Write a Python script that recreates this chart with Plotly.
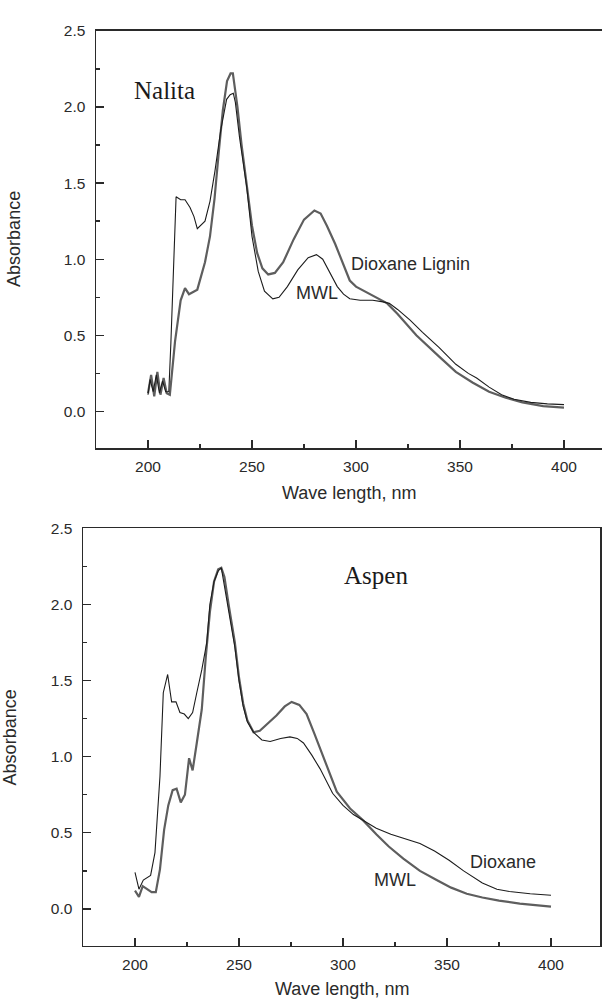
import plotly.graph_objects as go

# ---------------- data: Nalita (top panel) ----------------
nal_mwl_x = [200, 201, 202.5, 204, 205.5, 207, 208.5, 210, 211, 213.5, 215.7, 217.8, 220.2, 222.1, 223.7,
             227.4, 229.8, 232.2, 235, 237.8, 239.5, 241, 242, 244, 247.5, 250, 253, 256, 260, 263, 267,
             272, 277, 281, 284, 288, 291, 294, 297, 302, 308, 313, 316, 320, 326, 332, 340, 348, 354,
             358, 364, 370, 376, 384, 392, 400]
nal_mwl_y = [0.11, 0.21, 0.13, 0.24, 0.12, 0.20, 0.13, 0.13, 0.45, 1.41, 1.39, 1.39, 1.34, 1.28, 1.20,
             1.25, 1.38, 1.58, 1.85, 2.05, 2.08, 2.09, 2.03, 1.80, 1.47, 1.15, 0.92, 0.79, 0.74, 0.75, 0.82,
             0.93, 1.01, 1.03, 1.00, 0.90, 0.82, 0.77, 0.74, 0.73, 0.73, 0.72, 0.71, 0.67, 0.60, 0.52, 0.42,
             0.31, 0.25, 0.22, 0.16, 0.11, 0.08, 0.06, 0.05, 0.045]

nal_diox_x = [200, 201.5, 203, 204.5, 206, 207.5, 209, 210.5, 213, 215.7, 217.8, 219.7, 223.7, 227.4, 229.8,
              232, 234, 236, 238, 239.7, 240.8, 243, 245, 247.5, 250, 252.5, 255, 257.8, 261, 265, 270, 275,
              280, 283, 286, 290, 293, 297, 300, 304, 310, 315, 320, 329, 340, 348, 356, 364, 372, 380,
              390, 400]
nal_diox_y = [0.12, 0.24, 0.10, 0.26, 0.11, 0.22, 0.12, 0.11, 0.46, 0.73, 0.81, 0.77, 0.80, 0.98, 1.15,
              1.40, 1.70, 1.98, 2.17, 2.22, 2.22, 2.00, 1.75, 1.47, 1.22, 1.04, 0.94, 0.90, 0.91, 0.98, 1.13,
              1.26, 1.32, 1.30, 1.22, 1.10, 1.00, 0.86, 0.82, 0.79, 0.75, 0.71, 0.64, 0.50, 0.36, 0.26, 0.19,
              0.13, 0.09, 0.06, 0.035, 0.025]

# ---------------- data: Aspen (bottom panel) ----------------
asp_diox_x = [200, 201.9, 204, 207.5, 209.6, 212, 213.6, 215.7, 217.6, 219.7, 221.6, 223.7, 225.6, 227.7,
              229.7, 232.1, 234.5, 236, 238, 240, 241.5, 243, 245, 248, 250, 252, 254, 257, 261, 265, 270,
              274.5, 278, 281, 285, 289, 295, 300, 305, 310, 316, 323, 330, 337, 344, 351, 358, 367, 374,
              380, 390, 400]
asp_diox_y = [0.24, 0.13, 0.19, 0.22, 0.37, 0.87, 1.42, 1.54, 1.36, 1.36, 1.29, 1.28, 1.25, 1.29,
              1.42, 1.57, 1.75, 2.00, 2.15, 2.22, 2.24, 2.12, 1.95, 1.72, 1.50, 1.33, 1.23, 1.16, 1.11, 1.10,
              1.12, 1.13, 1.12, 1.09, 1.01, 0.92, 0.76, 0.68, 0.62, 0.58, 0.53, 0.49, 0.46, 0.43, 0.38, 0.32,
              0.25, 0.17, 0.13, 0.115, 0.10, 0.09]

asp_mwl_x = [200, 201.9, 203.7, 205.9, 208, 210, 212, 214, 216, 218.1, 220, 222, 224, 226, 227.7, 229.7,
             232.1, 234, 236, 238, 240, 241.5, 243, 245, 248, 250, 252, 254, 257, 260, 264, 268, 272,
             275.3, 279, 282.5, 286, 290.5, 294, 297, 303.4, 309.8, 316, 322, 329, 337, 345, 352, 359.5,
             367, 375, 385, 400]
asp_mwl_y = [0.12, 0.08, 0.15, 0.13, 0.11, 0.11, 0.26, 0.52, 0.68, 0.78, 0.79, 0.70, 0.75, 0.99, 0.91, 1.09,
             1.31, 1.65, 1.95, 2.15, 2.23, 2.24, 2.18, 2.00, 1.75, 1.52, 1.35, 1.24, 1.16, 1.17, 1.22, 1.27,
             1.33, 1.36, 1.34, 1.28, 1.16, 1.00, 0.87, 0.77, 0.66, 0.58, 0.49, 0.41, 0.33, 0.25, 0.19, 0.14,
             0.10, 0.075, 0.055, 0.035, 0.015]

x_tickvals = [200, 250, 300, 350, 400]
y_tickvals = [0.0, 0.5, 1.0, 1.5, 2.0, 2.5]

THIN = "#1c1c1c"
THICK = "#5e5e5e"
AX = "#2a2a2a"
TXT = "#2a2a2a"
SANS = "Liberation Sans, Arial, sans-serif"
SERIF = "Liberation Serif, Times New Roman, serif"

W, H = 602, 1001

fig = go.Figure()
fig.add_trace(go.Scatter(x=nal_diox_x, y=nal_diox_y, mode="lines", line=dict(color=THICK, width=2.2),
                         xaxis="x", yaxis="y", showlegend=False, hoverinfo="skip"))
fig.add_trace(go.Scatter(x=nal_mwl_x, y=nal_mwl_y, mode="lines", line=dict(color=THIN, width=1.1),
                         xaxis="x", yaxis="y", showlegend=False, hoverinfo="skip"))
fig.add_trace(go.Scatter(x=asp_mwl_x, y=asp_mwl_y, mode="lines", line=dict(color=THICK, width=2.2),
                         xaxis="x2", yaxis="y2", showlegend=False, hoverinfo="skip"))
fig.add_trace(go.Scatter(x=asp_diox_x, y=asp_diox_y, mode="lines", line=dict(color=THIN, width=1.1),
                         xaxis="x2", yaxis="y2", showlegend=False, hoverinfo="skip"))


def xax(domain, rng, anchor):
    return dict(domain=domain, range=rng, anchor=anchor, showline=True, linecolor=AX, linewidth=1.5,
                mirror=True, ticks="inside", ticklen=8, tickwidth=1.3, tickcolor=AX, tickvals=x_tickvals,
                tickfont=dict(family=SANS, size=15.5, color=TXT), showgrid=False, zeroline=False,
                ticklabelstandoff=4,
                minor=dict(ticks="inside", ticklen=4, tickwidth=1.3, tickcolor=AX, dtick=25, tick0=0,
                           showgrid=False))


def yax(domain, anchor, mirror):
    return dict(domain=domain, range=[-0.24, 2.5], anchor=anchor, showline=True, linecolor=AX,
                linewidth=1.5, mirror=mirror, ticks="inside", ticklen=8, tickwidth=1.3, tickcolor=AX,
                tickvals=y_tickvals, tickformat=".1f", tickfont=dict(family=SANS, size=15.5, color=TXT),
                showgrid=False, zeroline=False, ticklabelstandoff=6,
                minor=dict(ticks="inside", ticklen=4, tickwidth=1.3, tickcolor=AX, dtick=0.25, tick0=0,
                           showgrid=False))


top_y = [(H - 443) / H, (H - 22) / H]
bot_y = [(H - 945) / H, (H - 524) / H]

fig.update_layout(
    width=W, height=H, margin=dict(l=0, r=0, t=0, b=0),
    paper_bgcolor="white", plot_bgcolor="white",
    xaxis=xax([96 / W, 1.0], [175, 175 + (W - 96) / 2.08], "y"),
    yaxis=yax(top_y, "x", False),
    xaxis2=xax([83 / W, 600 / W], [175, 175 + (600 - 83) / 2.08], "y2"),
    yaxis2=yax(bot_y, "x2", True),
)

ann = []
ann.append(dict(text="Wave length, nm", x=(96 + 602) / 2 / W, y=(H - 488) / H, xref="paper", yref="paper",
                showarrow=False, font=dict(family=SANS, size=18, color=TXT), xanchor="center", yanchor="middle"))
ann.append(dict(text="Wave length, nm", x=(83 + 600) / 2 / W, y=(H - 989) / H, xref="paper", yref="paper",
                showarrow=False, font=dict(family=SANS, size=18, color=TXT), xanchor="center", yanchor="middle"))
ann.append(dict(text="Absorbance", x=14 / W, y=(H - 232) / H, xref="paper", yref="paper", textangle=-90,
                showarrow=False, font=dict(family=SANS, size=18, color=TXT), xanchor="center", yanchor="middle"))
ann.append(dict(text="Absorbance", x=10 / W, y=(H - 735) / H, xref="paper", yref="paper", textangle=-90,
                showarrow=False, font=dict(family=SANS, size=18, color=TXT), xanchor="center", yanchor="middle"))
ann.append(dict(text="Nalita", x=208, y=2.11, xref="x", yref="y", showarrow=False,
                font=dict(family=SERIF, size=25, color="#1a1a1a")))
ann.append(dict(text="Aspen", x=316, y=2.19, xref="x2", yref="y2", showarrow=False,
                font=dict(family=SERIF, size=25, color="#1a1a1a")))
ann.append(dict(text="Dioxane Lignin", x=326.4, y=0.97, xref="x", yref="y", showarrow=False,
                font=dict(family=SANS, size=18, color=TXT)))
ann.append(dict(text="MWL", x=281.3, y=0.78, xref="x", yref="y", showarrow=False,
                font=dict(family=SANS, size=18, color=TXT)))
ann.append(dict(text="Dioxane", x=377, y=0.31, xref="x2", yref="y2", showarrow=False,
                font=dict(family=SANS, size=18, color=TXT)))
ann.append(dict(text="MWL", x=325, y=0.19, xref="x2", yref="y2", showarrow=False,
                font=dict(family=SANS, size=18, color=TXT)))
fig.update_layout(annotations=ann)

fig.write_html("out.html", config={"displayModeBar": False, "staticPlot": True},
               post_script="document.body.style.margin='0px';document.body.style.overflow='hidden';")
